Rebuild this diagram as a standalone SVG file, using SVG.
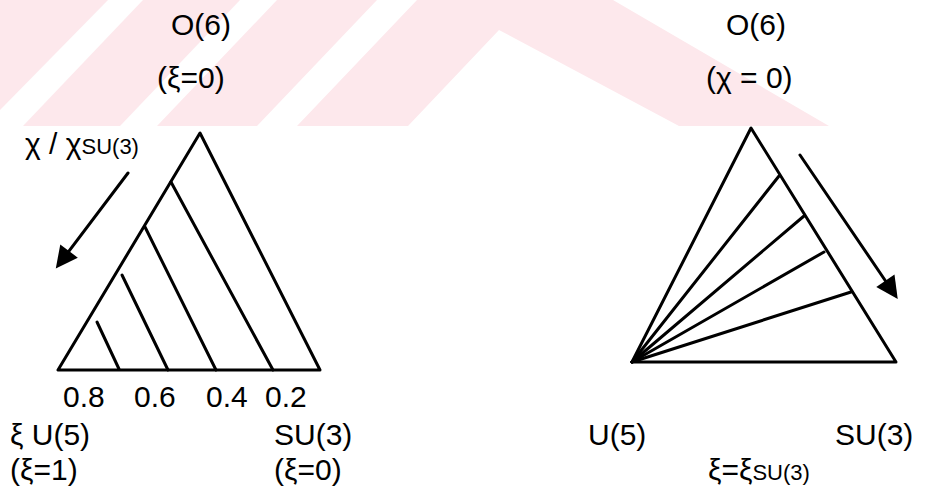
<svg xmlns="http://www.w3.org/2000/svg" width="936" height="497" viewBox="0 0 936 497">
<defs>
<style>
.t{font-family:"Liberation Sans",Arial,sans-serif;font-size:30px;fill:#000}
.s{font-size:22px}
.ln{stroke:#000;stroke-width:3;fill:none;stroke-linecap:round;stroke-linejoin:round}
.wm{fill:#fde8ec}
</style>
<marker id="ah" markerUnits="userSpaceOnUse" markerWidth="26" markerHeight="26" viewBox="0 0 26 26" refX="12" refY="13" orient="auto">
<path d="M2,2 L24,13 L2,24 z" fill="#000"/>
</marker>
</defs>
<rect width="936" height="497" fill="#fff"/>
<g id="watermark">
<polygon class="wm" points="0,0 108,0 0,110"/>
<polygon class="wm" points="143,0 240,0 120,126 23,126"/>
<polygon class="wm" points="277,0 377,0 257,126 157,126"/>
<polygon class="wm" points="417,0 613,0 829,126 679,126 499,30 408,126 297,126"/>
</g>
<g id="left-triangle">
<polygon class="ln" points="200,133 58,370 320,370"/>
<line class="ln" x1="171" y1="182" x2="273" y2="370"/>
<line class="ln" x1="145" y1="227" x2="216" y2="370"/>
<line class="ln" x1="122" y1="275" x2="168" y2="370"/>
<line class="ln" x1="97" y1="322" x2="119" y2="369"/>
</g>
<g id="right-triangle">
<polygon class="ln" points="751,128 632,362 896,362"/>
<line class="ln" x1="632" y1="362" x2="779" y2="176"/>
<line class="ln" x1="632" y1="362" x2="804" y2="216"/>
<line class="ln" x1="632" y1="362" x2="824" y2="252"/>
<line class="ln" x1="632" y1="362" x2="851" y2="292"/>
</g>
<g id="connectors">
<line class="ln" x1="128" y1="173" x2="63" y2="259" marker-end="url(#ah)"/>
<line class="ln" x1="800" y1="155" x2="891" y2="289" marker-end="url(#ah)"/>
</g>
<g id="labels-left">
<text class="t" x="171" y="35">O(6)</text>
<text class="t" x="157" y="88">(ξ=0)</text>
<text class="t" x="25" y="154">χ / χ<tspan class="s">SU(3)</tspan></text>
<text class="t" x="63" y="407">0.8</text>
<text class="t" x="134" y="407">0.6</text>
<text class="t" x="206" y="407">0.4</text>
<text class="t" x="265" y="407">0.2</text>
<text class="t" x="10" y="445">ξ U(5)</text>
<text class="t" x="10" y="480">(ξ=1)</text>
<text class="t" x="274" y="445">SU(3)</text>
<text class="t" x="274" y="480">(ξ=0)</text>
</g>
<g id="labels-right">
<text class="t" x="726" y="35">O(6)</text>
<text class="t" x="706" y="88">(χ = 0)</text>
<text class="t" x="588" y="445">U(5)</text>
<text class="t" x="835" y="445">SU(3)</text>
<text class="t" x="708" y="480">ξ=ξ<tspan class="s">SU(3)</tspan></text>
</g>
</svg>
